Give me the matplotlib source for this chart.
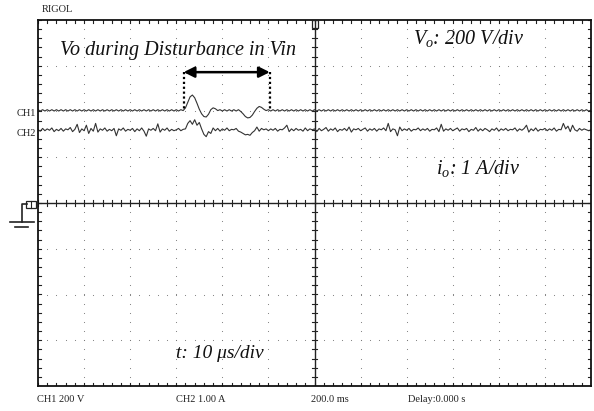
import matplotlib
matplotlib.use("Agg")
import matplotlib.pyplot as plt
from matplotlib.patches import Rectangle
from matplotlib.lines import Line2D
import numpy as np

# screen is 12 x 8 divisions, values below are in divisions (0.05 div steps)
t_div = np.round(np.arange(-6.0, 6.001, 0.05), 3)

ch1 = [
    2.04, 2.01, 2.04, 2.01, 2.04, 2.01, 2.04, 2.01, 2.04, 2.01, 2.04, 2.01, 2.04, 2.01, 2.04, 2.01, 2.04, 2.01, 2.04, 2.01,
    2.04, 2.01, 2.04, 2.01, 2.04, 2.01, 2.04, 2.01, 2.04, 2.01, 2.04, 2.01, 2.04, 2.01, 2.04, 2.01, 2.04, 2.01, 2.04, 2.01,
    2.04, 2.01, 2.04, 2.01, 2.04, 2.01, 2.04, 2.01, 2.04, 2.01, 2.04, 2.01, 2.04, 2.01, 2.04, 2.01, 2.04, 2.01, 2.04, 2.01,
    2.04, 2.01, 2.04, 2.02, 2.08, 2.20, 2.32, 2.36, 2.30, 2.18, 2.05, 1.95, 1.89, 1.88, 1.94, 2.04, 2.08, 2.06, 2.02, 2.04,
    2.01, 2.04, 2.01, 2.04, 2.01, 2.04, 2.01, 2.04, 2.00, 1.95, 1.89, 1.86, 1.87, 1.92, 2.00, 2.07, 2.11, 2.09, 2.05, 2.02,
    2.04, 2.01, 2.04, 2.01, 2.04, 2.01, 2.04, 2.01, 2.04, 2.01, 2.04, 2.01, 2.04, 2.01, 2.04, 2.01, 2.04, 2.01, 2.04, 2.01,
    2.04, 2.01, 2.04, 2.01, 2.04, 2.01, 2.04, 2.01, 2.04, 2.01, 2.04, 2.01, 2.04, 2.01, 2.04, 2.01, 2.04, 2.01, 2.04, 2.01,
    2.04, 2.01, 2.04, 2.01, 2.04, 2.01, 2.04, 2.01, 2.04, 2.01, 2.04, 2.01, 2.04, 2.01, 2.04, 2.01, 2.04, 2.01, 2.04, 2.01,
    2.04, 2.01, 2.04, 2.01, 2.04, 2.01, 2.04, 2.01, 2.04, 2.01, 2.04, 2.01, 2.04, 2.01, 2.04, 2.01, 2.04, 2.01, 2.04, 2.01,
    2.04, 2.01, 2.04, 2.01, 2.04, 2.01, 2.04, 2.01, 2.04, 2.01, 2.04, 2.01, 2.04, 2.01, 2.04, 2.01, 2.04, 2.01, 2.04, 2.01,
    2.04, 2.01, 2.04, 2.01, 2.04, 2.01, 2.04, 2.01, 2.04, 2.01, 2.04, 2.01, 2.04, 2.01, 2.04, 2.01, 2.04, 2.01, 2.04, 2.01,
    2.04, 2.01, 2.04, 2.01, 2.04, 2.01, 2.04, 2.01, 2.04, 2.01, 2.04, 2.01, 2.04, 2.01, 2.04, 2.01, 2.04, 2.01, 2.04, 2.01,
    2.03]

ch2 = [
    1.60, 1.57, 1.63, 1.58, 1.62, 1.59, 1.64, 1.56, 1.61, 1.58, 1.63, 1.57, 1.62, 1.60, 1.65, 1.56, 1.61, 1.72, 1.54, 1.62,
    1.58, 1.70, 1.52, 1.63, 1.57, 1.74, 1.55, 1.62, 1.59, 1.64, 1.57, 1.61, 1.58, 1.63, 1.47, 1.62, 1.59, 1.64, 1.57, 1.61,
    1.59, 1.63, 1.56, 1.62, 1.58, 1.64, 1.57, 1.46, 1.62, 1.59, 1.63, 1.58, 1.73, 1.55, 1.62, 1.59, 1.64, 1.57, 1.61, 1.58,
    1.60, 1.63, 1.58, 1.61, 1.62, 1.74, 1.80, 1.72, 1.82, 1.70, 1.76, 1.62, 1.50, 1.45, 1.56, 1.52, 1.64, 1.58, 1.63, 1.57,
    1.62, 1.59, 1.64, 1.58, 1.61, 1.60, 1.63, 1.57, 1.55, 1.52, 1.49, 1.50, 1.48, 1.54, 1.58, 1.66, 1.57, 1.63, 1.60, 1.62,
    1.58, 1.62, 1.59, 1.63, 1.57, 1.61, 1.60, 1.64, 1.70, 1.56, 1.62, 1.58, 1.63, 1.59, 1.61, 1.57, 1.64, 1.58, 1.62, 1.60,
    1.62, 1.56, 1.63, 1.58, 1.61, 1.65, 1.57, 1.62, 1.59, 1.64, 1.56, 1.61, 1.59, 1.63, 1.58, 1.66, 1.55, 1.62, 1.60, 1.63,
    1.58, 1.61, 1.64, 1.57, 1.62, 1.59, 1.63, 1.57, 1.62, 1.60, 1.64, 1.58, 1.74, 1.56, 1.62, 1.60, 1.47, 1.66, 1.58, 1.62,
    1.59, 1.63, 1.57, 1.61, 1.60, 1.64, 1.58, 1.62, 1.59, 1.63, 1.57, 1.61, 1.60, 1.64, 1.56, 1.72, 1.57, 1.62, 1.59, 1.63,
    1.58, 1.61, 1.64, 1.57, 1.62, 1.60, 1.63, 1.56, 1.61, 1.59, 1.65, 1.57, 1.62, 1.58, 1.63, 1.60, 1.56, 1.62, 1.59, 1.64,
    1.57, 1.62, 1.59, 1.63, 1.58, 1.61, 1.60, 1.64, 1.57, 1.62, 1.59, 1.63, 1.70, 1.55, 1.62, 1.58, 1.64, 1.57, 1.61, 1.60,
    1.63, 1.58, 1.62, 1.59, 1.64, 1.57, 1.61, 1.60, 1.74, 1.62, 1.68, 1.56, 1.70, 1.60, 1.57, 1.63, 1.59, 1.62, 1.60, 1.58,
    1.60]

disturb_start = -2.84
disturb_end = -0.97
arrow_y = 2.86

bottom_labels = ["CH1 200 V", "CH2 1.00 A", "200.0 ms", "Delay:0.000 s"]
bottom_x = [37, 176, 311, 408]

plt.rcParams["mathtext.fontset"] = "custom"
plt.rcParams["mathtext.it"] = "Liberation Serif:italic"
plt.rcParams["mathtext.rm"] = "Liberation Serif"

W, H = 594, 411
fig = plt.figure(figsize=(W / 100, H / 100), dpi=100)
L, R, T, B = 38, 591, 20, 386
ax = fig.add_axes([L / W, (H - B) / H, (R - L) / W, (B - T) / H])
ax.set_xlim(-6, 6)
ax.set_ylim(-4, 4)
ax.set_xticks([])
ax.set_yticks([])
for s in ax.spines.values():
    s.set_linewidth(1.3)
    s.set_color("#111111")

serif = "Liberation Serif"

# dotted grid
minor = np.arange(-6, 6.01, 0.2)
for gy in range(-3, 4):
    if gy == 0:
        continue
    ax.scatter(minor, np.full(len(minor), gy), s=0.6, color="#777777", lw=0)
minor_y = np.arange(-4, 4.01, 0.2)
for gx in range(-5, 6):
    if gx == 0:
        continue
    ax.scatter(np.full(len(minor_y), gx), minor_y, s=0.6, color="#777777", lw=0)

# center axes with ticks
ax.axhline(0, color="#222222", lw=1.0)
ax.axvline(0, color="#222222", lw=1.0)
for x in minor:
    ax.plot([x, x], [-0.06, 0.06], color="#222222", lw=0.8)
    ax.plot([x, x], [4, 3.93], color="#222222", lw=0.8)
    ax.plot([x, x], [-4, -3.93], color="#222222", lw=0.8)
for y in minor_y:
    ax.plot([-0.06, 0.06], [y, y], color="#222222", lw=0.8)
    ax.plot([-6, -5.93], [y, y], color="#222222", lw=0.8)
    ax.plot([6, 5.93], [y, y], color="#222222", lw=0.8)

# traces
ax.plot(t_div, ch1, color="#333333", lw=0.8)
ax.plot(t_div, ch2, color="#333333", lw=0.8)

# disturbance marker
ax.annotate("", xy=(disturb_start, arrow_y), xytext=(disturb_end, arrow_y),
            arrowprops=dict(arrowstyle="<|-|>", color="black", lw=1.8,
                            mutation_scale=16, shrinkA=0, shrinkB=0))
ax.plot([disturb_start, disturb_start], [arrow_y, 2.06], color="black",
        lw=1.6, linestyle=(0, (1, 1.2)))
ax.plot([disturb_end, disturb_end], [arrow_y, 2.06], color="black",
        lw=1.6, linestyle=(0, (1, 1.2)))

ax.text(-2.95, 3.33, "Vo during Disturbance in Vin", fontsize=14.5,
        family=serif, style="italic", ha="center", va="center", color="#111111")
ax.text(3.35, 3.6, r"$V_o$: 200 V/div", fontsize=14.5, family=serif,
        style="italic", ha="center", va="center", color="#111111")
ax.text(3.55, 0.75, r"$i_o$: 1 A/div", fontsize=14.5, family=serif,
        style="italic", ha="center", va="center", color="#111111")
ax.text(-2.05, -3.3, "t: 10 μs/div", fontsize=14, family=serif,
        style="italic", ha="center", va="center", color="#111111")

# labels outside the screen (pixel positions)
def fig_text(px, py, s, **kw):
    fig.text(px / W, 1 - py / H, s, family=serif, fontsize=7.5,
             color="#222222", va="center", **kw)

fig_text(42, 9, "RIGOL")
fig_text(17, 113, "CH1")
fig_text(17, 133, "CH2")
for lab, bx in zip(bottom_labels, bottom_x):
    fig_text(bx, 399, lab)

# ground marker and trigger marker
inch = fig.dpi_scale_trans
def px_line(xs, ys, lw=1.2):
    fig.add_artist(Line2D([x / 100 for x in xs], [(H - y) / 100 for y in ys],
                          transform=inch, color="#222222", lw=lw))

px_line([22, 22, 27], [222, 204, 204])
px_line([10, 34], [222, 222])
px_line([15, 28], [227, 227])
fig.add_artist(Rectangle((26 / 100, (H - 208) / 100), 10 / 100, 7 / 100,
                         transform=inch, fill=False, ec="#222222", lw=0.9))
px_line([31, 31], [201, 208], lw=0.8)
fig.add_artist(Rectangle((312 / 100, (H - 28) / 100), 6 / 100, 8 / 100,
                         transform=inch, fill=False, ec="#222222", lw=0.9))

fig.savefig("out.png", dpi=100)
